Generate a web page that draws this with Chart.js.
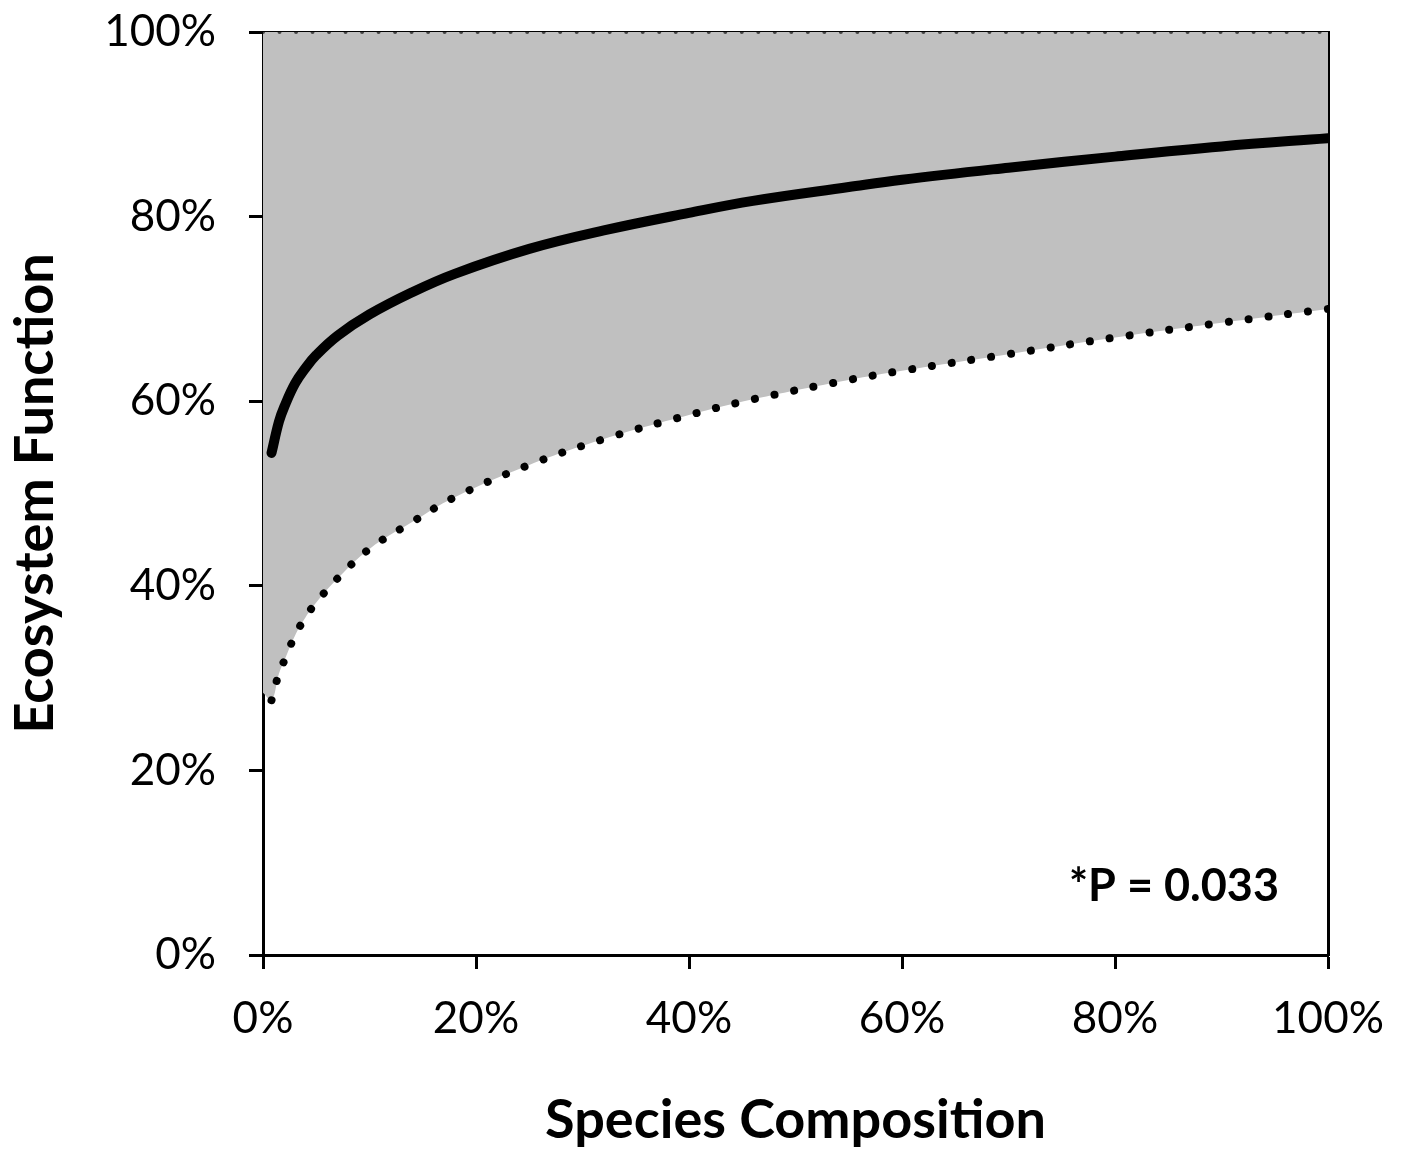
<!DOCTYPE html>
<html>
<head>
<meta charset="utf-8">
<script src="https://cdn.jsdelivr.net/npm/chart.js@4.4.1/dist/chart.umd.min.js"></script>
<style>
    html, body { margin: 0; padding: 0; background: #fff; }
    #wrap { width: 1402px; height: 1149px; }
</style>
</head>
<body>
<div id="wrap"><canvas id="efChart"></canvas></div>
<script>
const composition = [0.8, 1.5, 2, 3, 4, 5, 7, 10, 14, 18, 25, 32, 40, 46, 55, 60, 70, 80, 90, 100];
// Solid curve (ecosystem function, %)
const fitted = [54.4, 57.8, 59.4, 61.9, 63.6, 65.0, 67.1, 69.4, 71.8, 73.8, 76.5, 78.5, 80.4, 81.7, 83.2, 84.0, 85.3, 86.5, 87.6, 88.5];
// Dotted lower bound (%)
const lowerBound = [27.6, 30.5, 31.9, 34.6, 36.6, 38.2, 40.8, 44.0, 46.9, 49.6, 53.1, 55.9, 58.5, 60.2, 62.3, 63.3, 65.1, 66.9, 68.5, 70.0];
// grey band meets the y axis here
const bandEdgeX = 0;
const bandEdgeY = 28.4;
// Dotted upper bound at the top of the range
const upperX = [0, 100];
const upperBound = [100, 100];

const tickValues = [0, 20, 40, 60, 80, 100];
const pLabel = '*P = 0.033';
const pPos = { x: 95.4, y: 7.4 };

const FONT = 'Lato, "Noto Sans", sans-serif';

const toPoints = (xs, ys) => xs.map((x, i) => ({ x: x, y: ys[i] }));

// draws the P value inside the plot
const pValuePlugin = {
    id: 'pValue',
    afterDraw(chart) {
        const { ctx, scales } = chart;
        ctx.save();
        ctx.font = 'bold 45px ' + FONT;
        ctx.fillStyle = '#000';
        ctx.textAlign = 'right';
        ctx.textBaseline = 'middle';
        ctx.fillText(pLabel, scales.x.getPixelForValue(pPos.x), scales.y.getPixelForValue(pPos.y));
        ctx.restore();
    }
};

const ctx = document.getElementById('efChart').getContext('2d');
new Chart(ctx, {
    type: 'line',
    data: {
        datasets: [
            {
                label: 'Fitted',
                data: toPoints(composition, fitted),
                borderColor: '#000',
                borderWidth: 10,
                borderCapStyle: 'round',
                pointRadius: 0,
                tension: 0.4,
                fill: false
            },
            {
                label: 'Lower bound',
                data: toPoints(composition, lowerBound),
                borderColor: '#000',
                borderWidth: 8,
                borderCapStyle: 'round',
                borderDash: [0.01, 20],
                pointRadius: 0,
                tension: 0.4,
                fill: false
            },
            {
                label: 'Upper bound',
                data: toPoints(upperX, upperBound),
                borderColor: '#444',
                borderWidth: 4,
                borderCapStyle: 'round',
                borderDash: [0.01, 16.5],
                pointRadius: 0,
                fill: false
            },
            {
                label: 'Band',
                data: [{ x: bandEdgeX, y: bandEdgeY }].concat(toPoints(composition, lowerBound)),
                borderWidth: 0,
                pointRadius: 0,
                tension: 0.4,
                fill: { value: 100 },
                backgroundColor: '#c0c0c0'
            }
        ]
    },
    plugins: [pValuePlugin],
    options: {
        responsive: true,
        maintainAspectRatio: false,
        animation: false,
        layout: { padding: { top: 32, right: 74, left: 0, bottom: 0 } },
        plugins: {
            legend: { display: false },
            tooltip: { enabled: false },
            filler: { drawTime: 'beforeDatasetsDraw' }
        },
        scales: {
            x: {
                type: 'linear',
                min: 0,
                max: 100,
                afterBuildTicks: s => { s.ticks = tickValues.map(v => ({ value: v })); },
                afterFit: s => { s.height = 194; s.paddingLeft = 0; s.paddingRight = 0; },
                ticks: {
                    callback: v => v + '%',
                    color: '#000',
                    font: { family: FONT, size: 44 },
                    padding: 23,
                    maxRotation: 0
                },
                grid: {
                    drawOnChartArea: false,
                    drawTicks: true,
                    tickLength: 14,
                    tickWidth: 3,
                    tickColor: '#000'
                },
                border: { color: '#000', width: 3 },
                title: {
                    display: true,
                    text: 'Species Composition',
                    color: '#000',
                    font: { family: FONT, size: 54, weight: 'bold' },
                    padding: { top: 0, bottom: -4 }
                }
            },
            y: {
                min: 0,
                max: 100,
                afterBuildTicks: s => { s.ticks = tickValues.map(v => ({ value: v })); },
                afterFit: s => { s.width = 263; s.paddingTop = 0; s.paddingBottom = 0; },
                ticks: {
                    callback: v => v + '%',
                    color: '#000',
                    font: { family: FONT, size: 44 },
                    padding: 33
                },
                grid: {
                    drawOnChartArea: false,
                    drawTicks: true,
                    tickLength: 14,
                    tickWidth: 3,
                    tickColor: '#000'
                },
                border: { color: '#000', width: 3 },
                title: {
                    display: true,
                    text: 'Ecosystem Function',
                    color: '#000',
                    font: { family: FONT, size: 54, weight: 'bold' },
                    padding: { top: 3, bottom: 0 }
                }
            },
            xTop: {
                type: 'linear',
                position: 'top',
                min: 0,
                max: 100,
                afterFit: s => { s.height = 0; s.paddingLeft = 0; s.paddingRight = 0; },
                ticks: { display: false },
                grid: { display: false, drawTicks: false },
                border: { color: '#000', width: 3 }
            },
            yRight: {
                position: 'right',
                min: 0,
                max: 100,
                afterFit: s => { s.width = 0; s.paddingTop = 0; s.paddingBottom = 0; },
                ticks: { display: false },
                grid: { display: false, drawTicks: false },
                border: { color: '#000', width: 3 }
            }
        }
    }
});
</script>
</body>
</html>
